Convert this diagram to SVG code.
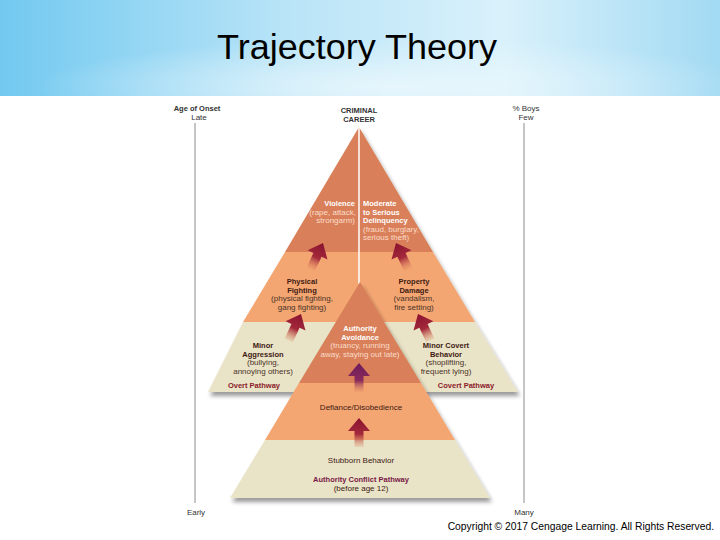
<svg xmlns="http://www.w3.org/2000/svg" width="720" height="540" viewBox="0 0 720 540">
<defs>
<linearGradient id="sky" x1="0" y1="0" x2="1" y2="0">
<stop offset="0" stop-color="#72c9f0"/>
<stop offset="0.4" stop-color="#b9e4f7"/>
<stop offset="0.7" stop-color="#d9f1fb"/>
<stop offset="1" stop-color="#a2daf3"/>
</linearGradient>
<radialGradient id="skyglow" cx="0.55" cy="0.9" r="0.5">
<stop offset="0" stop-color="#eef9fd" stop-opacity="0.8"/>
<stop offset="1" stop-color="#eef9fd" stop-opacity="0"/>
</radialGradient>
<linearGradient id="redArrow" x1="0" y1="0" x2="0" y2="1">
<stop offset="0" stop-color="#8a1230"/>
<stop offset="0.55" stop-color="#a3283a"/>
<stop offset="1" stop-color="#e08a60" stop-opacity="0.2"/>
</linearGradient>
<linearGradient id="purpleArrow" x1="0" y1="0" x2="0" y2="1">
<stop offset="0" stop-color="#6c1b5c"/>
<stop offset="0.6" stop-color="#8a2a5c"/>
<stop offset="1" stop-color="#d88460" stop-opacity="0.2"/>
</linearGradient>
<filter id="shadow" x="-10%" y="-10%" width="130%" height="130%">
<feGaussianBlur in="SourceAlpha" stdDeviation="2"/>
<feOffset dx="2" dy="4" result="b"/>
<feComponentTransfer><feFuncA type="linear" slope="0.4"/></feComponentTransfer>
<feMerge><feMergeNode/><feMergeNode in="SourceGraphic"/></feMerge>
</filter>
<path id="arr" d="M0,0 L11,13 L4.5,13 L4.5,29 L-4.5,29 L-4.5,13 L-11,13 Z"/>
</defs>
<style>
text{font-family:"Liberation Sans",Arial,sans-serif;}
.lab{font-size:8px;text-anchor:middle;}
.b{font-weight:bold;font-size:7.5px;}
.dk{fill:#d9805a;}
.lo{fill:#f4a672;}
.bg{fill:#e9e3c7;}
.wt{fill:#ffffff;}
.wd{fill:#fbdcc8;}
.tt{fill:#3e1a12;}
.td{fill:#4a3328;}
.pw{fill:#8b1a2a;}
.ax{fill:#333333;}
.axl{stroke:#8c8c8c;stroke-width:1;}
</style>
<rect x="0" y="0" width="720" height="540" fill="#ffffff"/>
<rect x="0" y="0" width="720" height="96" fill="url(#sky)"/>
<rect x="0" y="0" width="720" height="96" fill="url(#skyglow)"/>
<text x="357" y="59" font-size="35" text-anchor="middle" fill="#000000" textLength="280" lengthAdjust="spacingAndGlyphs">Trajectory Theory</text>

<g id="axes">
<line class="axl" x1="195" y1="123" x2="195" y2="503"/>
<line class="axl" x1="524" y1="123" x2="524" y2="503" stroke="#a8a8a8"/>
<text class="lab b ax" x="197" y="111">Age of Onset</text>
<text class="lab ax" x="199" y="120">Late</text>
<text class="lab ax" x="196" y="515">Early</text>
<text class="lab ax" x="526" y="111">% Boys</text>
<text class="lab ax" x="526" y="120">Few</text>
<text class="lab ax" x="524" y="515">Many</text>
</g>

<g id="upper-pyramid" filter="url(#shadow)">
<polygon class="dk" points="359,127 433,252 285,252"/>
<polygon class="lo" points="285,252 433,252 475,322 243,322"/>
<polygon class="bg" points="243,322 475,322 518,392 208,392"/>
</g>
<line x1="359" y1="127" x2="359" y2="284" stroke="#ffffff" stroke-width="1.5"/>

<g id="lower-pyramid" filter="url(#shadow)">
<polygon class="dk" points="360,282 421,383 299,383"/>
<polygon class="lo" points="299,383 421,383 455,440 265,440"/>
<polygon class="bg" points="265,440 455,440 490,498 230,498"/>
</g>

<g id="criminal-career">
<text class="lab b ax" x="359" y="113">CRIMINAL</text>
<text class="lab b ax" x="359" y="122">CAREER</text>
</g>

<g id="violence" font-size="8">
<text class="b wt" x="355" y="206" text-anchor="end">Violence</text>
<text class="wd" x="356" y="214.5" text-anchor="end" font-size="8">(rape, attack,</text>
<text class="wd" x="355" y="223" text-anchor="end" font-size="8">strongarm)</text>
</g>

<g id="moderate-serious-delinquency">
<text class="b wt" x="363" y="206">Moderate</text>
<text class="b wt" x="363" y="214.5">to Serious</text>
<text class="b wt" x="363" y="223">Delinquency</text>
<text class="wd" x="363" y="231.5" font-size="8">(fraud, burglary,</text>
<text class="wd" x="363" y="240" font-size="8">serious theft)</text>
</g>

<g id="physical-fighting">
<text class="lab b tt" x="302" y="284">Physical</text>
<text class="lab b tt" x="302" y="292.5">Fighting</text>
<text class="lab td" x="302" y="301">(physical fighting,</text>
<text class="lab td" x="302" y="309.5">gang fighting)</text>
</g>

<g id="property-damage">
<text class="lab b tt" x="414" y="284">Property</text>
<text class="lab b tt" x="414" y="292.5">Damage</text>
<text class="lab td" x="414" y="301">(vandalism,</text>
<text class="lab td" x="414" y="309.5">fire setting)</text>
</g>

<g id="authority-avoidance">
<text class="lab b wt" x="360" y="331">Authority</text>
<text class="lab b wt" x="360" y="339.5">Avoidance</text>
<text class="lab wd" x="360" y="348">(truancy, running</text>
<text class="lab wd" x="360" y="356.5">away, staying out late)</text>
</g>

<g id="minor-aggression">
<text class="lab b tt" x="263" y="348">Minor</text>
<text class="lab b tt" x="263" y="356.5">Aggression</text>
<text class="lab td" x="263" y="365">(bullying,</text>
<text class="lab td" x="263" y="373.5">annoying others)</text>
<text class="lab b pw" x="254" y="387.5">Overt Pathway</text>
</g>

<g id="minor-covert-behavior">
<text class="lab b tt" x="446" y="348">Minor Covert</text>
<text class="lab b tt" x="446" y="356.5">Behavior</text>
<text class="lab td" x="446" y="365">(shoplifting,</text>
<text class="lab td" x="446" y="373.5">frequent lying)</text>
<text class="lab b pw" x="466" y="387.5">Covert Pathway</text>
</g>

<g id="defiance-disobedience">
<text class="lab tt" x="361" y="410">Defiance/Disobedience</text>
</g>

<g id="stubborn-behavior">
<text class="lab tt" x="361" y="463">Stubborn Behavior</text>
<text class="lab b" x="361" y="481.5" fill="#7a1846">Authority Conflict Pathway</text>
<text class="lab tt" x="361" y="491">(before age 12)</text>
</g>

<g id="connectors">
<use href="#arr" fill="url(#redArrow)" transform="translate(323,243) rotate(25)"/>
<use href="#arr" fill="url(#redArrow)" transform="translate(396,243) rotate(-25)"/>
<use href="#arr" fill="url(#redArrow)" transform="translate(301,314) rotate(25)"/>
<use href="#arr" fill="url(#redArrow)" transform="translate(418,314) rotate(-25)"/>
<use href="#arr" fill="url(#purpleArrow)" transform="translate(359,363)"/>
<use href="#arr" fill="url(#redArrow)" transform="translate(359,418)"/>
</g>

<text x="714" y="530" font-family="'Liberation Sans',sans-serif" font-size="10.3" text-anchor="end" fill="#000000">Copyright © 2017 Cengage Learning. All Rights Reserved.</text>
</svg>
